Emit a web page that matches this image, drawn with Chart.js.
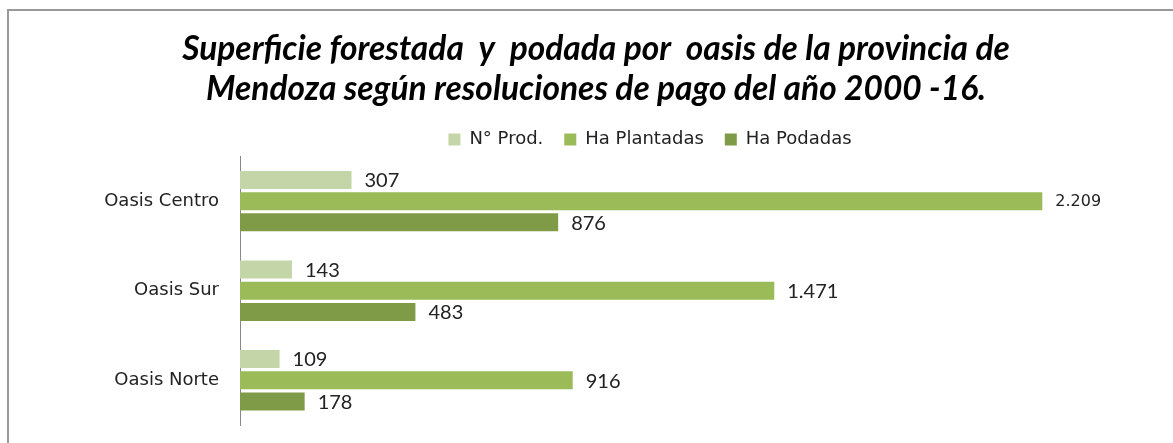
<!DOCTYPE html>
<html lang="es">
<head>
    <meta charset="UTF-8">
    <title>Superficie forestada y podada por oasis</title>
    <script src="https://cdn.jsdelivr.net/npm/chart.js"></script>
    <style>
        body {
            margin: 0;
            background: #fff;
            overflow: hidden;
        }

        .marco {
            position: absolute;
            left: 7px;
            top: 9px;
            width: 1300px;
            height: 600px;
            border-left: 2px solid #999;
            border-top: 2px solid #999;
        }

        .chart-container {
            position: absolute;
            left: 0;
            top: 0;
            width: 1173px;
            height: 443px;
        }
    </style>
</head>
<body>
    <div class="marco"></div>
    <div class="chart-container">
        <canvas id="grafico"></canvas>
    </div>

    <script>
        const oasis = ['Oasis Centro', 'Oasis Sur', 'Oasis Norte'];
        const nProd = [307, 143, 109];
        const haPlantadas = [2209, 1471, 916];
        const haPodadas = [876, 483, 178];

        const titulo = [
            'Superficie forestada  y  podada por  oasis de la provincia de',
            'Mendoza según resoluciones de pago del año 2000 -16.'
        ];

        function formato(v) {
            return v.toString().replace(/\B(?=(\d{3})+(?!\d))/g, '.');
        }

        // etiquetas de valor al final de cada barra
        const etiquetas = {
            id: 'etiquetas',
            afterDatasetsDraw(chart) {
                const ctx = chart.ctx;
                ctx.save();
                ctx.fillStyle = '#222';
                ctx.textBaseline = 'middle';
                ctx.textAlign = 'left';
                chart.data.datasets.forEach((ds, i) => {
                    const meta = chart.getDatasetMeta(i);
                    meta.data.forEach((bar, j) => {
                        const v = ds.data[j];
                        // la etiqueta mayor sale con otra letra en el original
                        if (v >= 2000) {
                            ctx.font = '16px "DejaVu Sans"';
                        } else {
                            ctx.font = '20px Lato';
                        }
                        ctx.fillText(formato(v), bar.x + 13, bar.y + 1);
                    });
                });
                ctx.restore();
            }
        };

        // la leyenda va centrada sobre el area del grafico, no sobre el titulo
        const moverLeyenda = {
            id: 'moverLeyenda',
            afterLayout(chart) {
                const l = chart.legend;
                l.left += 54;
                l.right += 54;
                l.top += 2;
                l.bottom += 2;
            }
        };

        const ctx = document.getElementById('grafico').getContext('2d');
        const grafico = new Chart(ctx, {
            type: 'bar',
            data: {
                labels: oasis,
                datasets: [
                    {
                        label: 'N° Prod.',
                        data: nProd,
                        backgroundColor: '#c4d6a8'
                    },
                    {
                        label: 'Ha Plantadas',
                        data: haPlantadas,
                        backgroundColor: '#9bbb59'
                    },
                    {
                        label: 'Ha Podadas',
                        data: haPodadas,
                        backgroundColor: '#7f9b48'
                    }
                ]
            },
            options: {
                indexAxis: 'y',
                responsive: true,
                maintainAspectRatio: false,
                animation: false,
                categoryPercentage: 0.71,
                barPercentage: 0.85,
                layout: {
                    padding: { left: 44, right: 25, top: 0, bottom: 18 }
                },
                plugins: {
                    tooltip: { enabled: false },
                    title: {
                        display: true,
                        text: titulo,
                        color: '#000',
                        font: { family: 'Lato', size: 33.5, weight: 'bold', style: 'italic', lineHeight: 1.2 },
                        padding: { top: 29, bottom: -2 }
                    },
                    legend: {
                        display: true,
                        position: 'top',
                        labels: {
                            color: '#222',
                            boxWidth: 12,
                            boxHeight: 12,
                            padding: 21,
                            font: { family: 'DejaVu Sans', size: 18 }
                        }
                    }
                },
                scales: {
                    x: {
                        display: false,
                        min: 0,
                        max: 2500
                    },
                    y: {
                        grid: { display: false, drawTicks: false },
                        border: { display: true, color: '#888', width: 1 },
                        ticks: {
                            color: '#222',
                            padding: 21,
                            font: { family: 'DejaVu Sans', size: 18 }
                        },
                        afterFit(scale) {
                            scale.width = 196;
                            scale.paddingTop = 0;
                            scale.paddingBottom = 0;
                        }
                    }
                }
            },
            plugins: [etiquetas, moverLeyenda]
        });
    </script>
</body>
</html>
